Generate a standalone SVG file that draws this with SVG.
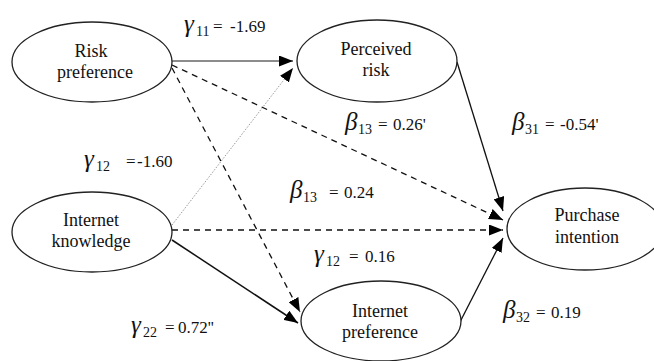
<svg xmlns="http://www.w3.org/2000/svg" width="654" height="361" viewBox="0 0 654 361">
<style>
.node ellipse{fill:#fff;stroke:#222;stroke-width:1.3}
.node text{font-family:"Liberation Serif",serif;font-size:18px;fill:#111;text-anchor:middle}
.lbl{font-family:"Liberation Serif",serif;font-size:17px;fill:#111}
.gr{font-style:italic;font-size:25px}
.sub{font-size:14px}
.c{fill:none;stroke:#111;stroke-width:1.3}
.dash{stroke-dasharray:6,5}
</style>
<defs>
<marker id="ah" viewBox="0 0 14 11" refX="14" refY="5.5" markerWidth="14" markerHeight="11" markerUnits="userSpaceOnUse" orient="auto">
<path d="M0,0 L14,5.5 L0,11 Z" fill="#000"/>
</marker>
</defs>
<rect width="654" height="361" fill="#fff"/>
<g id="connectors">
<line class="c" x1="172" y1="61" x2="293" y2="61" style="stroke:#666;stroke-width:1.5" marker-end="url(#ah)"/>
<line class="c" x1="172" y1="225" x2="293" y2="68" style="stroke:#999;stroke-width:1;stroke-dasharray:1.5,1.5" marker-end="url(#ah)"/>
<line class="c dash" x1="172" y1="65" x2="503" y2="220" marker-end="url(#ah)"/>
<line class="c dash" x1="172" y1="68" x2="300" y2="312" marker-end="url(#ah)"/>
<line class="c dash" x1="172" y1="230" x2="503" y2="230" marker-end="url(#ah)"/>
<line class="c" x1="172" y1="240" x2="298" y2="323" style="stroke-width:1.5" marker-end="url(#ah)"/>
<line class="c" x1="457" y1="62" x2="503" y2="211" marker-end="url(#ah)"/>
<line class="c" x1="460" y1="322" x2="503" y2="238" marker-end="url(#ah)"/>
</g>
<g id="risk-preference" class="node">
<ellipse cx="92" cy="62" rx="80" ry="40"/>
<text x="91" y="57">Risk</text>
<text x="95" y="78">preference</text>
</g>
<g id="perceived-risk" class="node">
<ellipse cx="377" cy="61" rx="80" ry="41"/>
<text x="376" y="55">Perceived</text>
<text x="376" y="76">risk</text>
</g>
<g id="internet-knowledge" class="node">
<ellipse cx="92" cy="232" rx="80" ry="40"/>
<text x="91" y="226">Internet</text>
<text x="91" y="247">knowledge</text>
</g>
<g id="internet-preference" class="node">
<ellipse cx="381" cy="321" rx="80" ry="40"/>
<text x="380" y="317">Internet</text>
<text x="380" y="338">preference</text>
</g>
<g id="purchase-intention" class="node">
<ellipse cx="585" cy="229" rx="78" ry="41"/>
<text x="587" y="221">Purchase</text>
<text x="587" y="243">intention</text>
</g>
<g id="labels">
<text class="lbl" y="32"><tspan class="gr" x="184">γ</tspan><tspan class="sub" x="196" dy="4">11</tspan><tspan x="213" dy="-4">=</tspan><tspan x="230">-1.69</tspan></text>
<text class="lbl" y="167"><tspan class="gr" x="84">γ</tspan><tspan class="sub" x="96" dy="4">12</tspan><tspan x="126" dy="-4">=</tspan><tspan x="137">-1.60</tspan></text>
<text class="lbl" y="130"><tspan class="gr" x="345">β</tspan><tspan class="sub" x="358" dy="4">13</tspan><tspan x="378" dy="-4">=</tspan><tspan x="393">0.26'</tspan></text>
<text class="lbl" y="130"><tspan class="gr" x="512">β</tspan><tspan class="sub" x="525" dy="4">31</tspan><tspan x="545" dy="-4">=</tspan><tspan x="560">-0.54'</tspan></text>
<text class="lbl" y="198"><tspan class="gr" x="290">β</tspan><tspan class="sub" x="303" dy="4">13</tspan><tspan x="329" dy="-4">=</tspan><tspan x="344">0.24</tspan></text>
<text class="lbl" y="262"><tspan class="gr" x="314">γ</tspan><tspan class="sub" x="326" dy="4">12</tspan><tspan x="349" dy="-4">=</tspan><tspan x="365">0.16</tspan></text>
<text class="lbl" y="333"><tspan class="gr" x="131">γ</tspan><tspan class="sub" x="143" dy="4">22</tspan><tspan x="165" dy="-4">=</tspan><tspan x="178">0.72''</tspan></text>
<text class="lbl" y="318"><tspan class="gr" x="503">β</tspan><tspan class="sub" x="516" dy="4">32</tspan><tspan x="536" dy="-4">=</tspan><tspan x="551">0.19</tspan></text>
</g>
</svg>
